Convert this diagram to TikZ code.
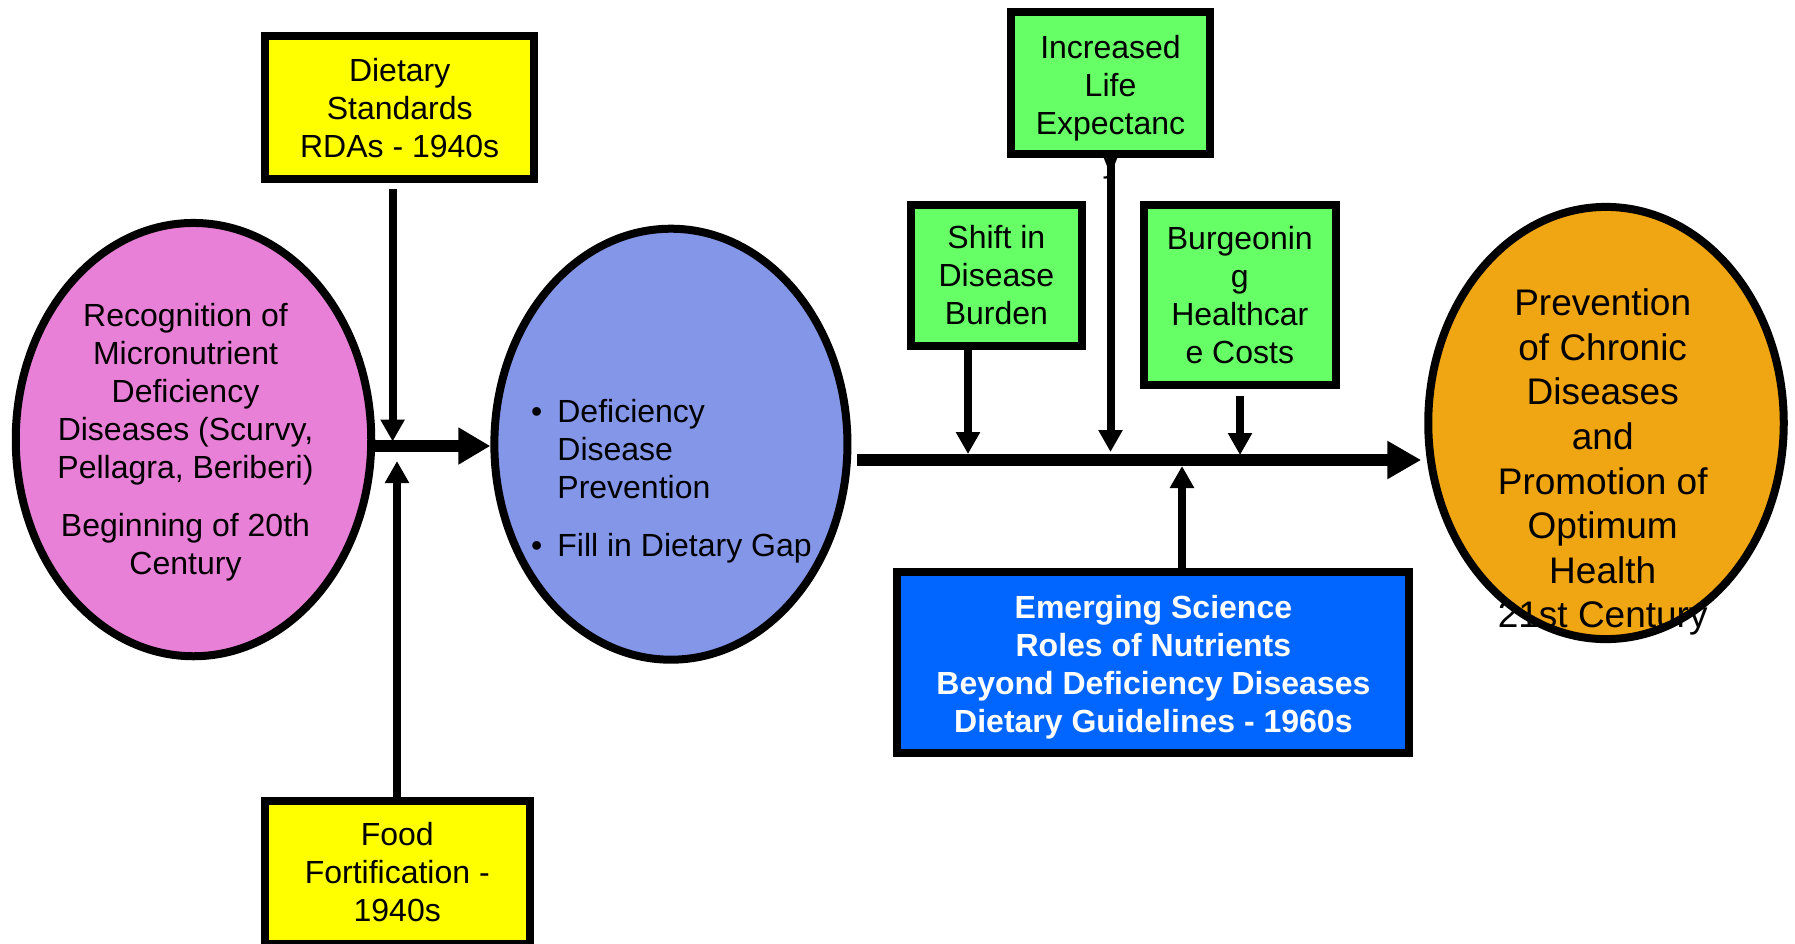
\documentclass[tikz,border=0pt]{standalone}
\usepackage{fontspec}
\setmainfont{Liberation Sans}
\usetikzlibrary{arrows.meta,shapes.geometric,calc}
\definecolor{pinkfill}{RGB}{232,128,216}
\definecolor{bluefill}{RGB}{132,150,232}
\definecolor{orangefill}{RGB}{240,165,18}
\definecolor{greenfill}{RGB}{102,255,102}
\definecolor{yellowfill}{RGB}{255,255,0}
\definecolor{rectblue}{RGB}{0,102,255}
\tikzset{
  boxnode/.style={draw=black, line width=8pt, rectangle, inner sep=0pt, align=center, font=\fontsize{32}{38}\selectfont},
  ellnode/.style={draw=black, line width=8pt, ellipse, inner sep=0pt},
  txt/.style={inner sep=0pt, align=center, font=\fontsize{32}{38}\selectfont},
  bigarrow/.style={line width=12pt, -{Triangle[length=32pt,width=35pt]}},
  thinarrow/.style={line width=8pt, -{Triangle[length=22pt,width=23pt]}},
}
\begin{document}
\begin{tikzpicture}[x=1pt,y=-1pt]
\useasboundingbox (0,0) rectangle (1795,943);
% ellipses
\node[ellnode, fill=pinkfill, minimum width=355.5pt, minimum height=433.3pt] (pink) at (193.5,439.6) {};
\node[ellnode, fill=bluefill, minimum width=353.1pt, minimum height=431pt] (blueell) at (670.9,444.2) {};
\node[ellnode, fill=orangefill, minimum width=355.5pt, minimum height=432.2pt] (orangeell) at (1606,423) {};
% ellipse texts
\node[txt] (pinktext) at (185.5,442.9) {\strut Recognition of\\Micronutrient\\Deficiency\\Diseases (Scurvy,\\Pellagra, Beriberi)\\[20pt]Beginning of 20th\\Century\strut};
\node[inner sep=0pt, anchor=west, font=\fontsize{32}{38}\selectfont] (bluetext) at (531,481.9)
  {\begin{tabular}{@{}l@{\hspace{15pt}}l@{}}\textbullet & Deficiency\\ & Disease\\ & Prevention\\[20pt]\textbullet & Fill in Dietary Gap\end{tabular}};
\node[txt, font=\fontsize{37}{44.6}\selectfont] (orangetext) at (1602.7,462.8) {\strut Prevention\\of Chronic\\Diseases\\and\\Promotion of\\Optimum\\Health\\21st Century\strut};
% boxes
\node[boxnode, fill=yellowfill, minimum width=269.3pt, minimum height=143pt] (diet) at (399.7,107.8) {Dietary\\Standards\\RDAs - 1940s};
\node[boxnode, fill=yellowfill, minimum width=264.9pt, minimum height=143pt] (food) at (397.25,872) {Food\\Fortification -\\1940s};
\node[boxnode, fill=greenfill, minimum width=198.5pt, minimum height=142.5pt] (inc) at (1110.45,83.05) {};
\node[txt] (inctext) at (1110.5,107.6) {\strut Increased\\Life\\Expectanc\\y\strut};
\node[boxnode, fill=greenfill, minimum width=170.2pt, minimum height=141.4pt] (shift) at (996.4,275.5) {Shift in\\Disease\\Burden};
\node[boxnode, fill=greenfill, minimum width=191.6pt, minimum height=180.3pt] (burg) at (1239.8,294.8) {Burgeonin\\g\\Healthcar\\e Costs};
\node[boxnode, fill=rectblue, minimum width=512.3pt, minimum height=180.7pt] (emerg) at (1153,662.2) {};
\node[txt, text=white, font=\fontsize{32}{38}\selectfont\bfseries] (emergtext) at (1153.4,667.9) {\strut Emerging Science\\Roles of Nutrients\\Beyond Deficiency Diseases\\Dietary Guidelines - 1960s\strut};
% coordinates
\coordinate (j1) at (393,446);
\coordinate (ml) at (0,460);
\coordinate (dtip) at (392.6,441.5);
\coordinate (ftip) at (397,461);
\coordinate (stip) at (968,454);
\coordinate (itip) at (1110.5,452);
\coordinate (btip) at (1240,455);
\coordinate (etip) at (1182,466);
% connectors
\draw[bigarrow] (pink.east |- j1) -- (blueell.west |- j1);
\draw[bigarrow, -{Triangle[length=34pt,width=36pt]}] ($(blueell.east |- ml)+(6,0)$) -- ($(orangeell.west |- ml)+(-3,0)$);
\draw[thinarrow] ($(diet.south -| dtip)+(0,6)$) -- (dtip);
\draw[thinarrow] (food.north -| ftip) -- (ftip);
\draw[thinarrow] (shift.south -| stip) -- (stip);
\draw[thinarrow] ($(inc.south -| itip)+(0,-8)$) -- (itip);
\draw[thinarrow] ($(burg.south -| btip)+(0,7)$) -- (btip);
\draw[thinarrow] (emerg.north -| etip) -- (etip);
\end{tikzpicture}
\end{document}
